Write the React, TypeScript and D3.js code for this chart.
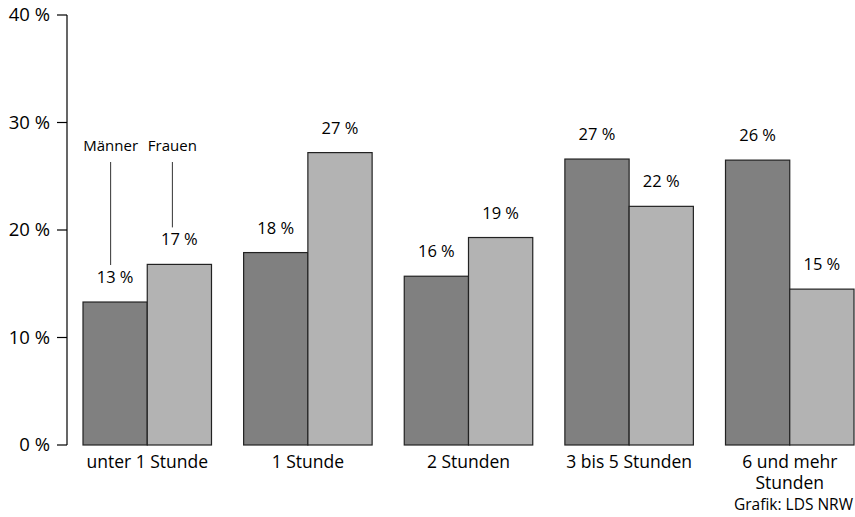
import * as d3 from "d3";

const categories = ["unter 1 Stunde", "1 Stunde", "2 Stunden", "3 bis 5 Stunden", "6 und mehr Stunden"];
const categoryLines = [["unter 1 Stunde"], ["1 Stunde"], ["2 Stunden"], ["3 bis 5 Stunden"], ["6 und mehr", "Stunden"]];
const series = ["Männer", "Frauen"];
const maenner = [13.3, 17.9, 15.7, 26.6, 26.5];
const frauen = [16.8, 27.2, 19.3, 22.2, 14.5];
const maennerLabels = ["13 %", "18 %", "16 %", "27 %", "26 %"];
const frauenLabels = ["17 %", "27 %", "19 %", "22 %", "15 %"];
const yTicks = [0, 10, 20, 30, 40];

const W = 855, H = 517;
const FONT = "'Open Sans', 'Noto Sans', sans-serif";
const colors: Record<string, string> = { "Männer": "#808080", "Frauen": "#b3b3b3" };

export default function App() {
  const y = d3.scaleLinear().domain([0, 40]).range([445, 15]);
  const x = d3.scaleBand().domain(categories).range([83, 854]).paddingInner(0.2).paddingOuter(0);
  const xs = d3.scaleBand().domain(series).range([0, x.bandwidth()]).padding(0);
  const values: Record<string, number[]> = { "Männer": maenner, "Frauen": frauen };
  const labels: Record<string, string[]> = { "Männer": maennerLabels, "Frauen": frauenLabels };
  const axisX = 67;
  const first = categories[0];

  return (
    <svg width={W} height={H} style={{ position: "absolute", left: 0, top: 0, background: "#fff" }} fontFamily={FONT}>
      {/* y axis */}
      <line x1={axisX} x2={axisX} y1={y(40)} y2={y(0)} stroke="#000" strokeWidth={1.2} />
      {yTicks.map(t => (
        <g key={t}>
          <line x1={axisX - 10} x2={axisX} y1={y(t)} y2={y(t)} stroke="#000" strokeWidth={1.2} />
          <text x={50} y={y(t)} dy="0.35em" textAnchor="end" fontSize={18.5} fill="#000">{t} %</text>
        </g>
      ))}
      {/* bars */}
      {categories.map((c, i) => (
        <g key={c} transform={`translate(${x(c)},0)`}>
          {series.map(s => {
            const v = values[s][i];
            const bx = xs(s)!;
            return (
              <g key={s}>
                <rect x={bx} y={y(v)} width={xs.bandwidth()} height={y(0) - y(v)} fill={colors[s]} stroke="#222" strokeWidth={1.2} />
                <text x={bx + xs.bandwidth() / 2} y={y(v) - 19} textAnchor="middle" fontSize={16.5} fill="#000">{labels[s][i]}</text>
              </g>
            );
          })}
          <text x={x.bandwidth() / 2} y={468} textAnchor="middle" fontSize={17.5} fill="#000">
            {categoryLines[i].map((ln, j) => (
              <tspan key={j} x={x.bandwidth() / 2} dy={j === 0 ? 0 : 21}>{ln}</tspan>
            ))}
          </text>
        </g>
      ))}
      {/* legend labels with leader lines */}
      {series.map(s => {
        const cx = x(first)! + xs(s)! + xs.bandwidth() / 2 + (s === "Männer" ? -4.5 : -7);
        const v = values[s][0];
        return (
          <g key={s}>
            <text x={cx} y={151} textAnchor="middle" fontSize={15} fill="#000">{s}</text>
            <line x1={cx} x2={cx} y1={162} y2={y(v) - 37} stroke="#333" strokeWidth={1} />
          </g>
        );
      })}
      <text x={853} y={510} textAnchor="end" fontSize={15.5} fill="#000">Grafik: LDS NRW</text>
    </svg>
  );
}
